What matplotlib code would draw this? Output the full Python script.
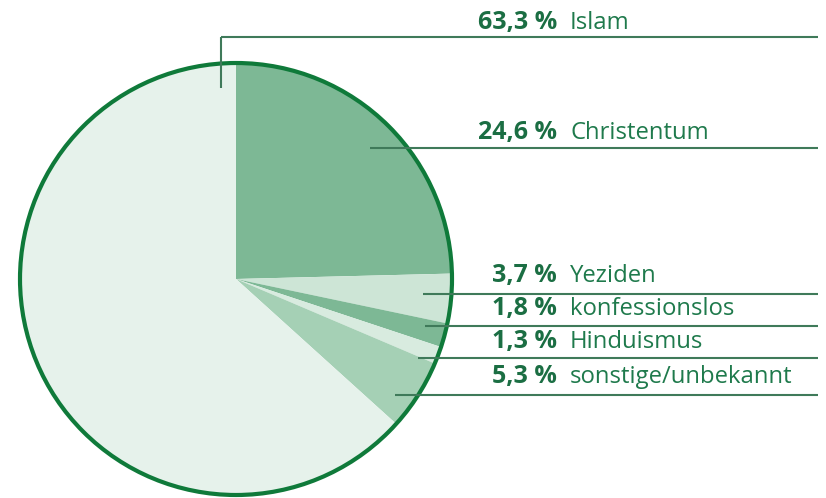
import matplotlib
matplotlib.use("Agg")
import matplotlib.pyplot as plt
from matplotlib.patches import Circle

# Data
categories = ["Christentum", "Yeziden", "konfessionslos", "Hinduismus", "sonstige/unbekannt", "Islam"]
values = [24.6, 3.7, 1.8, 1.3, 5.3, 63.3]
value_labels = ["24,6 %", "3,7 %", "1,8 %", "1,3 %", "5,3 %", "63,3 %"]

colors = ["#7db895", "#cde5d6", "#7db895", "#d8ebdf", "#a5d0b5", "#e6f2eb"]
text_col = "#1f7a4c"
line_col = "#3f7a5a"
ring_col = "#0f7a3a"

W, H = 826, 498
fig = plt.figure(figsize=(W / 100, H / 100), dpi=100)
ax = fig.add_axes([0, 0, 1, 1])

cx, cy, R = 236, 279, 216
ax.pie(values, colors=colors, startangle=-90, counterclock=True,
       center=(cx, cy), radius=R, frame=False,
       wedgeprops=dict(linewidth=0))
ax.add_patch(Circle((cx, cy), R, fill=False, edgecolor=ring_col, linewidth=3.0, zorder=5))

ax.set_xlim(0, W)
ax.set_ylim(H, 0)
ax.set_aspect("equal")
ax.axis("off")

# layout: (text baseline y, line y, line start x) for each category
layout = {
    "Christentum": (139, 148, 370),
    "Yeziden": (282, 294, 423),
    "konfessionslos": (315, 326, 425),
    "Hinduismus": (348, 358, 418),
    "sonstige/unbekannt": (383, 395, 395),
    "Islam": (29, 37, 221),
}
font = "Open Sans"
x_end = 818
for cat, vl in zip(categories, value_labels):
    ty, ly, lx = layout[cat]
    ax.text(557, ty, vl, ha="right", va="baseline", fontsize=18, fontweight="bold",
            color="#1b6e43", family=font, zorder=6)
    ax.text(570, ty, cat, ha="left", va="baseline", fontsize=17.2,
            color=text_col, family=font, zorder=6)
    if cat == "Islam":
        ax.plot([lx, lx], [88, ly], color=line_col, lw=1.5, zorder=6, solid_capstyle="butt")
        ax.plot([lx, x_end], [ly, ly], color=line_col, lw=1.5, zorder=6, solid_capstyle="butt")
    else:
        ax.plot([lx, x_end], [ly, ly], color=line_col, lw=1.5, zorder=6, solid_capstyle="butt")

fig.savefig("out.png", dpi=100)
